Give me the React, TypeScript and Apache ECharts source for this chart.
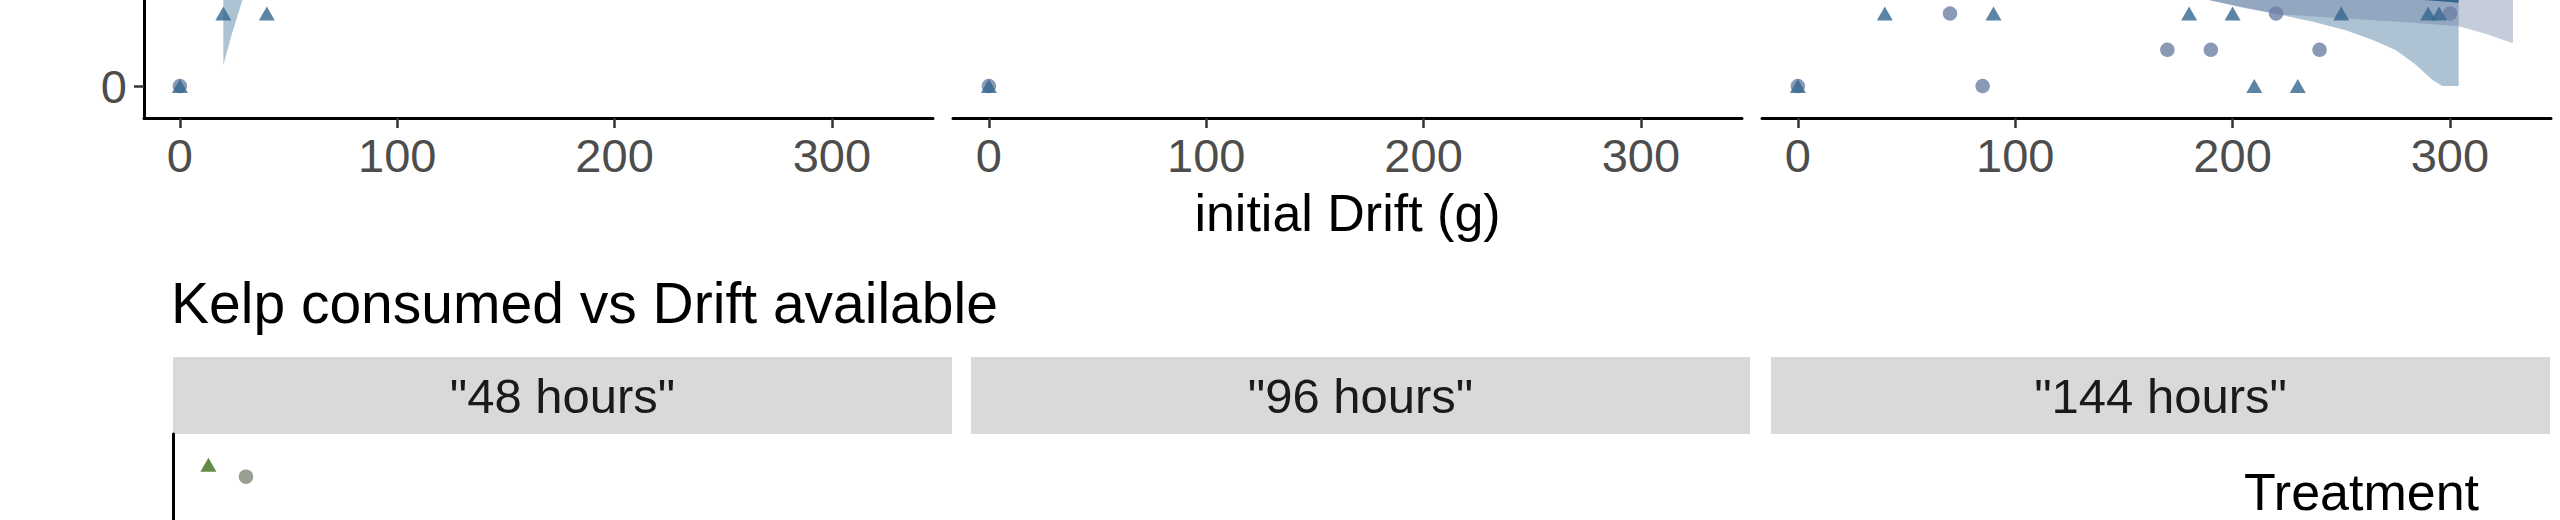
import React, { useEffect, useRef } from 'react';
import * as echarts from 'echarts';

// facet labels and axis ticks
const facetLabels = ['"48 hours"', '"96 hours"', '"144 hours"'];
const xTicks = [0, 100, 200, 300];
const yTicksTop = [0, 5, 10, 15];
const yLabelsTop = [0]; // the other labels lie above the visible area
const yTicksBottom = [0, 20, 40];

// top plot points: [initial Drift (g), value]
const topCircles48 = [[0, 0]];
const topTriangles48 = [[0, 0], [20, 2], [40, 2]];
const topCircles96 = [[0, 0]];
const topTriangles96 = [[0, 0]];
const topCircles144 = [[0, 0], [70, 2], [85, 0], [170, 1], [190, 1], [220, 2], [240, 1], [300, 2]];
const topTriangles144 = [[0, 0], [40, 2], [90, 2], [180, 2], [200, 2], [210, 0], [230, 0], [250, 2], [290, 2], [295, 2]];

// smooth confidence ribbons (lower / upper edge) and fitted line
const band48TriLower = [[20, 0.58], [24, 1.45], [28.8, 2.37], [34, 3.4], [40, 4.6]];
const band48TriUpper = [[20, 6], [40, 12]];
const band144TriLower = [[160, 3.0], [189, 2.37], [205, 2.17], [221, 1.98], [237, 1.77], [252, 1.54], [264, 1.28], [275, 0.99], [284, 0.6], [292, 0.17], [296.5, 0], [304, 0]];
const band144TriUpper = [[160, 8], [304, 8]];
const band144CirLower = [[160, 2.9], [189, 2.37], [205, 2.15], [221, 1.98], [252, 1.86], [280, 1.76], [304, 1.65], [316, 1.45], [329, 1.18]];
const band144CirUpper = [[160, 8], [329, 8]];
const fit144Tri = [[200, 2.85], [250, 2.62], [288, 2.44], [304, 2.364]];

// bottom plot points (Kelp consumed vs Drift available)
const bottomTriangles48 = [[0, 50.2]];
const bottomCircles48 = [[17.5, 49.3]];

const FONT = '"Liberation Sans", Arial, Helvetica, sans-serif';
const TRI_COLOR = '#33668f';
const CIR_COLOR = '#6d80a4';
const TRI_GREEN = '#3b6e1a';
const CIR_GREEN = '#7e8a76';

// layout
const X_MIN = -16.5;
const X_MAX = 346.5;
const TOP_LEFTS = [144, 953, 1762];
const TOP_W = 789;
const TOP_Y_MIN = -0.88;
const TOP_Y_MAX = 17.7;
const TOP_AXIS_Y = 118;
const TOP_H = (TOP_Y_MAX - TOP_Y_MIN) * 36.3;
const BOT_LEFTS = [173, 971, 1771];
const BOT_W = 779;
const BOT_TOP = 434;
const BOT_H = 733;
const BOT_Y_MIN = -2.5;
const BOT_Y_MAX = 52.5;

const hexToRgba = (hex: string, a: number) => {
  const n = parseInt(hex.slice(1), 16);
  return `rgba(${(n >> 16) & 255},${(n >> 8) & 255},${n & 255},${a})`;
};

const bandSeries = (idx: number, lower: number[][], upper: number[][], color: string) => ({
  type: 'custom',
  xAxisIndex: idx,
  yAxisIndex: idx,
  data: [0],
  silent: true,
  z: 1,
  renderItem: (_params: any, api: any) => {
    const pts = [...lower, ...upper.slice().reverse()].map((p) => api.coord(p));
    return { type: 'polygon', shape: { points: pts }, style: { fill: hexToRgba(color, 0.4) } };
  },
});

const scatter = (idx: number, data: number[][], shape: 'circle' | 'triangle', color: string) => ({
  type: 'scatter',
  xAxisIndex: idx,
  yAxisIndex: idx,
  symbol: shape,
  symbolSize: shape === 'triangle' ? [16, 14] : 14.5,
  itemStyle: { color },
  data,
  z: 3,
});

const App: React.FC = () => {
  const chartRef = useRef<HTMLDivElement>(null);

  useEffect(() => {
    if (!chartRef.current) return;
    const chart = echarts.init(chartRef.current, undefined, { renderer: 'svg' });

    const grids = [
      ...TOP_LEFTS.map((left) => ({ left, width: TOP_W, top: TOP_AXIS_Y - TOP_H, height: TOP_H })),
      ...BOT_LEFTS.map((left) => ({ left, width: BOT_W, top: BOT_TOP, height: BOT_H })),
    ].map((g) => ({ ...g, containLabel: false, outerBoundsMode: 'none' }));

    const xAxes = grids.map((_, i) => {
      if (i >= 3) return { type: 'value', gridIndex: i, min: X_MIN, max: X_MAX, show: false };
      return {
        type: 'value',
        gridIndex: i,
        min: X_MIN,
        max: X_MAX,
        axisLine: { show: true, onZero: false, lineStyle: { color: '#000', width: 3 } },
        axisTick: { show: true, customValues: xTicks, length: 10, lineStyle: { color: '#333', width: 2.5 } },
        axisLabel: { customValues: xTicks, fontSize: 47, color: '#4d4d4d', margin: 14, fontFamily: FONT },
        splitLine: { show: false },
      };
    });

    const yAxes = grids.map((_, i) => {
      const top = i < 3;
      const base = {
        type: 'value',
        gridIndex: i,
        min: top ? TOP_Y_MIN : BOT_Y_MIN,
        max: top ? TOP_Y_MAX : BOT_Y_MAX,
      };
      if (i !== 0 && i !== 3) return { ...base, show: false };
      return {
        ...base,
        axisLine: { show: true, onZero: false, lineStyle: { color: '#000', width: 3 } },
        axisTick: {
          show: true,
          customValues: top ? yTicksTop : yTicksBottom,
          length: 10,
          lineStyle: { color: '#333', width: 2.5 },
        },
        axisLabel: top
          ? { customValues: yLabelsTop, fontSize: 47, color: '#4d4d4d', margin: 17, fontFamily: FONT }
          : { show: false },
        splitLine: { show: false },
      };
    });

    const series: any[] = [
      bandSeries(0, band48TriLower, band48TriUpper, TRI_COLOR),
      scatter(0, topCircles48, 'circle', CIR_COLOR),
      scatter(0, topTriangles48, 'triangle', TRI_COLOR),
      scatter(1, topCircles96, 'circle', CIR_COLOR),
      scatter(1, topTriangles96, 'triangle', TRI_COLOR),
      bandSeries(2, band144TriLower, band144TriUpper, TRI_COLOR),
      bandSeries(2, band144CirLower, band144CirUpper, CIR_COLOR),
      {
        type: 'line',
        xAxisIndex: 2,
        yAxisIndex: 2,
        data: fit144Tri,
        showSymbol: false,
        lineStyle: { color: TRI_COLOR, width: 5 },
        z: 2,
      },
      scatter(2, topCircles144, 'circle', CIR_COLOR),
      scatter(2, topTriangles144, 'triangle', TRI_COLOR),
      scatter(3, bottomTriangles48, 'triangle', TRI_GREEN),
      scatter(3, bottomCircles48, 'circle', CIR_GREEN),
    ];

    const graphic: any[] = [
      {
        type: 'text',
        x: 171,
        y: 303,
        style: { text: 'Kelp consumed vs Drift available', font: `57px ${FONT}`, fill: '#000', textVerticalAlign: 'middle' },
      },
      {
        type: 'text',
        x: TOP_LEFTS[1] + TOP_W / 2,
        y: 213,
        style: { text: 'initial Drift (g)', font: `52px ${FONT}`, fill: '#000', textAlign: 'center', textVerticalAlign: 'middle' },
      },
      {
        type: 'text',
        x: 2244,
        y: 492,
        style: { text: 'Treatment', font: `52px ${FONT}`, fill: '#000', textVerticalAlign: 'middle' },
      },
    ];
    BOT_LEFTS.forEach((left, i) => {
      graphic.push({
        type: 'rect',
        shape: { x: left, y: 357, width: BOT_W, height: BOT_TOP - 357 },
        style: { fill: '#d9d9d9' },
      });
      graphic.push({
        type: 'text',
        x: left + BOT_W / 2,
        y: (357 + BOT_TOP) / 2,
        style: { text: facetLabels[i], font: `49px ${FONT}`, fill: '#1a1a1a', textAlign: 'center', textVerticalAlign: 'middle' },
      });
    });

    chart.setOption({
      animation: false,
      backgroundColor: '#fff',
      textStyle: { fontFamily: FONT },
      grid: grids,
      xAxis: xAxes,
      yAxis: yAxes,
      series,
      graphic,
    });

    return () => {
      chart.dispose();
    };
  }, []);

  return <div ref={chartRef} style={{ position: 'fixed', left: 0, top: 0, width: 2560, height: 520 }} />;
};

export default App;
